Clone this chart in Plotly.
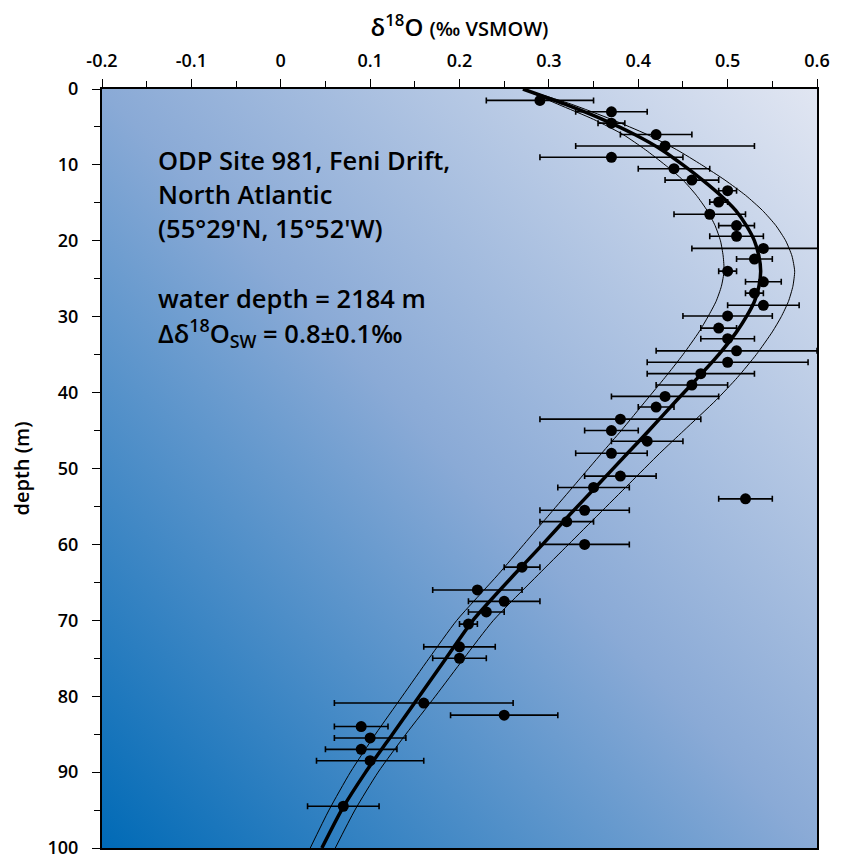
import base64
import plotly.graph_objects as go

# ---- measured data (δ18O, depth, ± error) ----
d18o = [0.29, 0.37, 0.37, 0.42, 0.43, 0.37, 0.44, 0.46, 0.50, 0.49, 0.48, 0.51, 0.51,
        0.54, 0.53, 0.50, 0.54, 0.53, 0.54, 0.50, 0.49, 0.50, 0.51, 0.50, 0.47, 0.46,
        0.43, 0.42, 0.38, 0.37, 0.41, 0.37, 0.38, 0.35, 0.52, 0.34, 0.32, 0.34, 0.27,
        0.22, 0.25, 0.23, 0.21, 0.20, 0.20, 0.16, 0.25, 0.09, 0.10, 0.09, 0.10, 0.07]
depth = [1.5, 3.0, 4.5, 6.0, 7.5, 9.0, 10.5, 12.0, 13.4, 14.9, 16.5, 18.0, 19.4,
         21.0, 22.4, 24.0, 25.4, 26.9, 28.5, 29.9, 31.5, 32.9, 34.5, 36.0, 37.5, 39.0,
         40.5, 41.9, 43.5, 45.0, 46.4, 48.0, 51.0, 52.5, 54.0, 55.5, 57.0, 60.0, 63.0,
         66.0, 67.5, 68.9, 70.5, 73.5, 75.0, 80.9, 82.5, 84.0, 85.5, 87.0, 88.5, 94.5]
err = [0.06, 0.04, 0.015, 0.04, 0.10, 0.08, 0.04, 0.03, 0.01, 0.01, 0.04, 0.02, 0.03,
       0.08, 0.02, 0.01, 0.02, 0.01, 0.04, 0.05, 0.02, 0.03, 0.09, 0.09, 0.06, 0.04,
       0.06, 0.02, 0.09, 0.03, 0.04, 0.04, 0.04, 0.04, 0.03, 0.05, 0.03, 0.05, 0.02,
       0.05, 0.04, 0.02, 0.01, 0.04, 0.03, 0.10, 0.06, 0.03, 0.04, 0.04, 0.06, 0.04]

# ---- model curves ----
curve_depth = [0, 2, 4, 6, 8, 10, 12, 14, 16, 18, 20, 22, 24, 26, 28, 30, 32, 35, 38,
               41, 45, 48, 52, 56, 60, 64, 70, 75, 80, 85, 90, 95, 100]
curve_mid = [0.271, 0.318, 0.360, 0.396, 0.426, 0.450, 0.472, 0.492, 0.509, 0.521,
             0.530, 0.535, 0.537, 0.535, 0.530, 0.521, 0.510, 0.490, 0.467, 0.443,
             0.412, 0.388, 0.356, 0.324, 0.293, 0.261, 0.215, 0.185, 0.155, 0.125,
             0.095, 0.068, 0.046]
curve_low = [0.271, 0.310, 0.350, 0.383, 0.408, 0.430, 0.450, 0.465, 0.477, 0.486,
             0.492, 0.495, 0.496, 0.493, 0.487, 0.478, 0.468, 0.450, 0.430, 0.409,
             0.381, 0.359, 0.330, 0.301, 0.272, 0.243, 0.197, 0.166, 0.136, 0.106,
             0.078, 0.054, 0.033]
curve_high = [0.271, 0.325, 0.370, 0.410, 0.443, 0.471, 0.497, 0.520, 0.539, 0.554,
              0.565, 0.572, 0.575, 0.573, 0.568, 0.560, 0.550, 0.532, 0.511, 0.487,
              0.451, 0.424, 0.390, 0.356, 0.322, 0.288, 0.238, 0.205, 0.173, 0.140,
              0.109, 0.083, 0.061]

x_ticks = [-0.2, -0.1, 0, 0.1, 0.2, 0.3, 0.4, 0.5, 0.6]
x_ticktext = ["-0.2", "-0.1", "0", "0.1", "0.2", "0.3", "0.4", "0.5", "0.6"]
y_ticks = [0, 10, 20, 30, 40, 50, 60, 70, 80, 90, 100]

FONT = "Open Sans"

fig = go.Figure()

for cx, w in [(curve_low, 1), (curve_high, 1), (curve_mid, 3.5)]:
    fig.add_trace(go.Scatter(x=cx, y=curve_depth, mode="lines",
                             line=dict(color="black", width=w, shape="spline", smoothing=0.6),
                             showlegend=False, hoverinfo="skip"))

fig.add_trace(go.Scatter(
    x=d18o, y=depth, mode="markers",
    marker=dict(color="black", size=11),
    error_x=dict(type="data", array=err, visible=True, color="black", thickness=1.6, width=3),
    cliponaxis=False, showlegend=False))

# gradient background
svg = ('<svg xmlns="http://www.w3.org/2000/svg" width="715" height="759">'
       '<defs><linearGradient id="g" x1="0" y1="1" x2="1" y2="0">'
       '<stop offset="0" stop-color="#006ab6"/>'
       '<stop offset="0.5" stop-color="#8aaad6"/>'
       '<stop offset="1" stop-color="#e1e6f2"/>'
       '</linearGradient></defs>'
       '<rect width="715" height="759" fill="url(#g)"/></svg>')
uri = "data:image/svg+xml;base64," + base64.b64encode(svg.encode()).decode()
fig.add_layout_image(dict(source=uri, xref="paper", yref="paper", x=0, y=1,
                          sizex=1, sizey=1, sizing="stretch", layer="below",
                          xanchor="left", yanchor="top"))

# page body has an 8px margin: shrink figure and margins accordingly
fig.update_layout(
    width=838, height=848,
    margin=dict(l=94, r=29, t=81, b=8, autoexpand=False),
    paper_bgcolor="white", plot_bgcolor="rgba(0,0,0,0)",
    font=dict(family=FONT, size=18, color="black"),
    xaxis=dict(side="top", range=[-0.2, 0.6], tickvals=x_ticks, ticktext=x_ticktext,
               ticks="outside", ticklen=8, tickwidth=1.2, tickcolor="black",
               minor=dict(dtick=0.05, tick0=0, ticks="outside", ticklen=6, tickwidth=1.2, tickcolor="black"),
               showline=True, linecolor="black", linewidth=2, mirror=True, showgrid=False,
               zeroline=False, tickfont=dict(size=18, weight=600), ticklabelstandoff=5,
               title=dict(text="δ<sup>18</sup>O <span style='font-size:20px'>(‰ VSMOW)</span>",
                          font=dict(size=24, weight=600), standoff=21)),
    yaxis=dict(range=[100, 0], tickvals=y_ticks,
               ticks="outside", ticklen=8, tickwidth=1.2, tickcolor="black",
               minor=dict(dtick=5, tick0=0, ticks="outside", ticklen=6, tickwidth=1.2, tickcolor="black"),
               showline=True, linecolor="black", linewidth=2, mirror=True, showgrid=False,
               zeroline=False, tickfont=dict(size=18, weight=600), ticklabelstandoff=10,
               ticklabeloverflow="allow",
               title=dict(text="depth (m)", font=dict(size=20, weight=600), standoff=16)),
)

lines = [
    ("ODP Site 981, Feni Drift,", 160),
    ("North Atlantic", 194),
    ("(55°29'N, 15°52'W)", 228),
    ("water depth = 2184 m", 298),
    ("Δδ<sup>18</sup>O<sub>SW</sub> = 0.8±0.1‰", 333),
]
for txt, ypx in lines:
    fig.add_annotation(text=txt, xref="paper", yref="paper",
                       x=(156 - 102) / 715, y=1 - (ypx - 89) / 759,
                       xanchor="left", yanchor="middle", showarrow=False,
                       font=dict(size=25.5, family=FONT, weight=600, color="black"))

fig.write_html("out.html")
